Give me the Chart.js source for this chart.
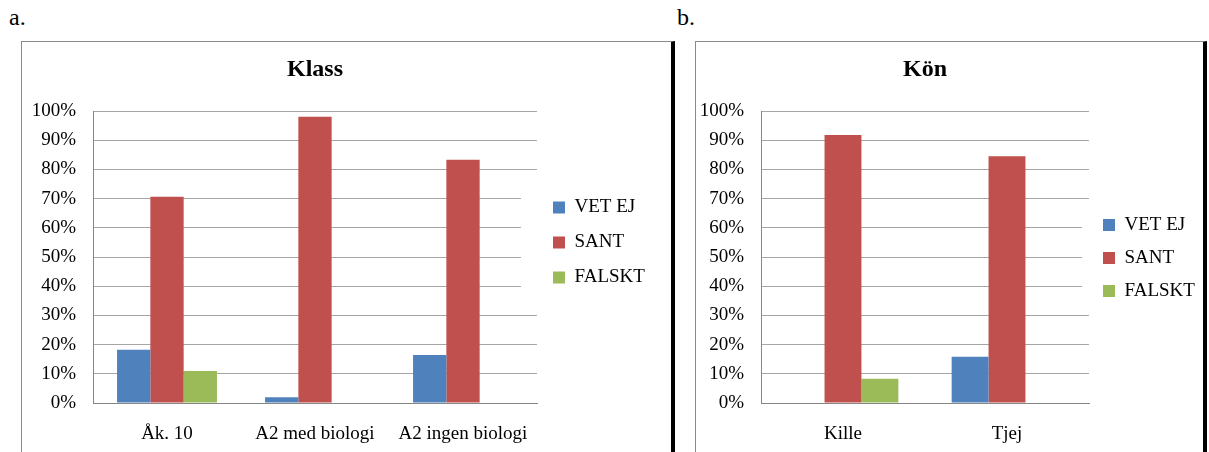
<!DOCTYPE html>
<html>
<head>
<meta charset="utf-8">
<script src="https://cdn.jsdelivr.net/npm/chart.js@4"></script>
<style>
  html, body { margin: 0; padding: 0; background: #fff; overflow: hidden; width: 1209px; height: 452px; }
  .lbl { position: absolute; font: 24px 'Liberation Serif', 'Times New Roman', serif; line-height: 1; color: #000; }
  .box { position: absolute; top: 41px; height: 440px; border-left: 1px solid #8a8a8a; border-top: 1px solid #8a8a8a; border-right: 4px solid #000; }
  .box canvas { position: absolute; left: 0; top: 0; }
</style>
</head>
<body>
<div class="lbl" style="left:9px; top:5px;">a.</div>
<div class="lbl" style="left:677px; top:5px;">b.</div>
<div class="box" style="left:21px; width:649px;"><canvas id="klassChart" width="649" height="411"></canvas></div>
<div class="box" style="left:695px; width:507px;"><canvas id="konChart" width="507" height="432"></canvas></div>
<script>
// Klass (chart a)
const klassCategories = ['Åk. 10', 'A2 med biologi', 'A2 ingen biologi'];
const klassVetEj = [18.2, 2.0, 16.4];
const klassSant = [70.6, 98.0, 83.3];
const klassFalskt = [11.0, 0, 0];

// Kön (chart b)
const konCategories = ['Kille', 'Tjej'];
const konVetEj = [0, 15.8];
const konSant = [91.8, 84.5];
const konFalskt = [8.3, 0];

const seriesNames = ['VET EJ', 'SANT', 'FALSKT'];
const seriesColors = ['#4F81BD', '#C0504D', '#9BBB59'];
const yTicks = [0, 10, 20, 30, 40, 50, 60, 70, 80, 90, 100];

const serif = "'Liberation Serif', 'Times New Roman', serif";
Chart.defaults.font.family = serif;
Chart.defaults.color = '#000';

// white legend frame overlapping the right end of the gridlines (like Excel)
const legendBackdrop = {
    id: 'legendBackdrop',
    beforeDatasetsDraw(chart, args, opts) {
        const boxes = chart.legend && chart.legend.legendHitBoxes;
        if (!boxes || !boxes.length) return;
        const last = boxes[boxes.length - 1];
        const top = boxes[0].top - opts.margin;
        const bottom = last.top + last.height + opts.margin;
        const ctx = chart.ctx;
        ctx.save();
        ctx.fillStyle = '#fff';
        ctx.fillRect(chart.chartArea.right - opts.overlap, top, opts.overlap + 1, bottom - top);
        ctx.restore();
    }
};

function makeChart(id, title, labels, values, cfg) {
    const ctx = document.getElementById(id).getContext('2d');
    return new Chart(ctx, {
        type: 'bar',
        data: {
            labels: labels,
            datasets: values.map((v, i) => ({
                label: seriesNames[i],
                data: v,
                backgroundColor: seriesColors[i],
                borderWidth: 0,
                categoryPercentage: 0.675,
                barPercentage: 1
            }))
        },
        plugins: [legendBackdrop],
        options: {
            responsive: false,
            animation: false,
            devicePixelRatio: 1,
            layout: { padding: { top: 0, left: 0, right: cfg.padRight, bottom: cfg.padBottom } },
            plugins: {
                title: {
                    display: true, text: title, fullSize: false,
                    font: { size: 24, weight: 'bold', family: serif },
                    color: '#000',
                    padding: { top: 13.6, bottom: 26.6 }
                },
                legend: {
                    position: 'right',
                    maxWidth: 110,
                    labels: {
                        boxWidth: 12, boxHeight: 12,
                        padding: cfg.legendPad,
                        font: { size: 19, family: serif },
                        color: '#000'
                    }
                },
                legendBackdrop: { margin: 12, overlap: cfg.overlap },
                tooltip: { enabled: false }
            },
            scales: {
                x: {
                    grid: { display: false, drawTicks: false },
                    border: { color: '#868686', width: 1 },
                    ticks: { padding: 20, font: { size: 19 }, color: '#000' },
                    afterFit: s => { s.height = cfg.xHeight; }
                },
                y: {
                    min: 0, max: 100,
                    afterBuildTicks: s => { s.ticks = yTicks.map(v => ({ value: v })); },
                    grid: { color: '#a6a6a6', drawTicks: false },
                    border: { color: '#868686', width: 1 },
                    ticks: { padding: 17, font: { size: 19 }, color: '#000', callback: v => v + '%' },
                    afterFit: s => { s.width = cfg.yWidth; }
                }
            }
        }
    });
}

makeChart('klassChart', 'Klass', klassCategories, [klassVetEj, klassSant, klassFalskt],
    { padRight: 24, padBottom: 10, legendPad: 16, xHeight: 40, yWidth: 71, overlap: 16 });
makeChart('konChart', 'Kön', konCategories, [konVetEj, konSant, konFalskt],
    { padRight: 4, padBottom: 0, legendPad: 14, xHeight: 71, yWidth: 65, overlap: 7 });
</script>
</body>
</html>
